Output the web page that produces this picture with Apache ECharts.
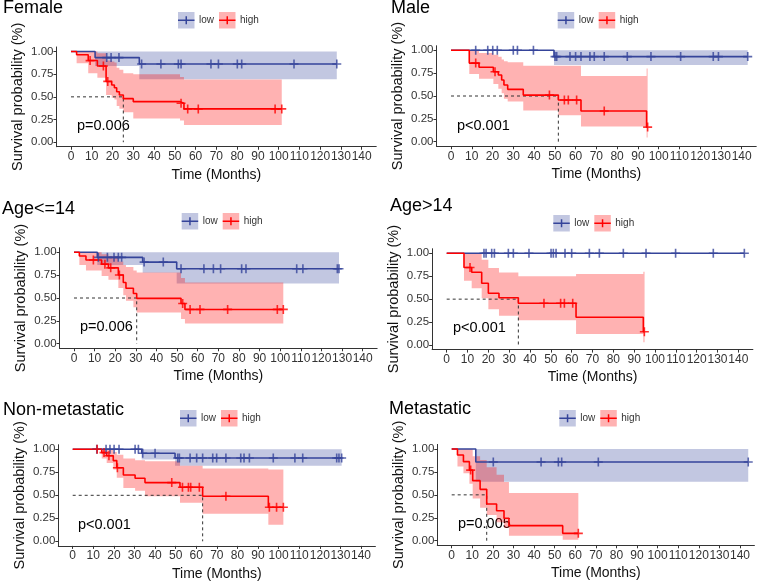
<!DOCTYPE html>
<html><head><meta charset="utf-8">
<script src="https://cdn.jsdelivr.net/npm/echarts@6/dist/echarts.min.js"></script>
<style>html,body{margin:0;padding:0;background:#fff}#c{width:759px;height:584px}</style>
</head><body><div id="c"></div>
<script>
// ---------- tick labels / texts ----------
const xTicks = [0,10,20,30,40,50,60,70,80,90,100,110,120,130,140];
const yTicks = [0,0.25,0.5,0.75,1];
const titles = ['Female','Male','Age<=14','Age>14','Non-metastatic','Metastatic'];
const pValues = ['p=0.006','p<0.001','p=0.006','p<0.001','p<0.001','p=0.005'];
const medianHigh = [25.2, 51.7, 30.4, 34.4, 63.1, 17];
const groupNames = ['low','high'];

// ---------- Female ----------
const femaleLowT  = [0, 11.6, 32.9, 128];
const femaleLowS  = [1, 0.933, 0.862, 0.862];
const femaleLowLo = [1, 0.84, 0.695, 0.695];
const femaleLowHi = [1, 1, 1, 1];
const femaleLowCens = [17.2, 19.3, 23.1, 34, 43.3, 51.7, 53, 67.4, 71, 80.1, 82.2, 107.4, 128];
const femaleHighT  = [0, 2.7, 8.3, 12.7, 16.9, 19.6, 20.9, 22, 23.3, 25.2, 30, 52.5, 54.4, 101.5];
const femaleHighS  = [1, 0.964, 0.90, 0.84, 0.67, 0.63, 0.60, 0.556, 0.52, 0.48, 0.447, 0.43, 0.367, 0.367];
const femaleHighLo = [1, 0.87, 0.76, 0.71, 0.52, 0.49, 0.47, 0.40, 0.37, 0.33, 0.26, 0.24, 0.19, 0.19];
const femaleHighHi = [1, 1, 1, 0.98, 0.90, 0.89, 0.88, 0.82, 0.80, 0.76, 0.75, 0.72, 0.69, 0.69];
const femaleHighCens = [9.2, 15.6, 17.7, 53, 56.2, 61.3, 98.3, 101.5];

// ---------- Male ----------
const maleLowT  = [0, 49.6, 142.9];
const maleLowS  = [1, 0.931, 0.931];
const maleLowLo = [1, 0.839, 0.839];
const maleLowHi = [1, 1, 1];
const maleLowCens = [11.9, 17.7, 20.1, 22.3, 30, 32, 39.7, 50.1, 50.9, 57.3, 60, 62.6, 66.9, 69, 73.8, 84.9, 96.3, 110.6, 126.3, 128.8, 142.9];
const maleHighT  = [0, 8.8, 13.5, 20.4, 22.8, 24.4, 25.5, 27.3, 34.8, 51.7, 62.6, 94.2, 94.7];
const maleHighS  = [1, 0.86, 0.814, 0.766, 0.73, 0.675, 0.62, 0.573, 0.51, 0.456, 0.336, 0.16, 0.16];
const maleHighLo = [1, 0.74, 0.69, 0.63, 0.58, 0.53, 0.47, 0.44, 0.34, 0.29, 0.165, 0.045, 0.045];
const maleHighHi = [1, 1, 0.97, 0.95, 0.93, 0.90, 0.88, 0.87, 0.83, 0.83, 0.72, 0.80, 0.80];
const maleHighCens = [11.9, 21.2, 47.4, 54.6, 56.5, 60.5, 73.8, 94.7];

// ---------- Age<=14 ----------
const youngLowT  = [0, 11.3, 33.3, 49.8, 128.5];
const youngLowS  = [1, 0.945, 0.893, 0.82, 0.82];
const youngLowLo = [1, 0.86, 0.777, 0.66, 0.66];
const youngLowHi = [1, 1, 1, 1, 1];
const youngLowCens = [11.8, 16.2, 19.4, 21.5, 23.1, 34, 43.3, 51.9, 63, 67.6, 71.1, 81.3, 83.4, 108, 111, 127.7, 128.5];
const youngHighT  = [0, 2.6, 5.8, 13.4, 16.7, 21.5, 23.9, 25.2, 28.8, 30.4, 51.9, 53.8, 101.5];
const youngHighS  = [1, 0.96, 0.916, 0.87, 0.83, 0.752, 0.67, 0.606, 0.55, 0.496, 0.44, 0.375, 0.375];
const youngHighLo = [1, 0.86, 0.80, 0.74, 0.70, 0.61, 0.53, 0.47, 0.40, 0.34, 0.27, 0.22, 0.22];
const youngHighHi = [1, 1, 1, 0.98, 0.96, 0.90, 0.86, 0.84, 0.80, 0.78, 0.72, 0.67, 0.67];
const youngHighCens = [9.4, 15, 17.8, 22, 52.7, 56.3, 61.1, 74.5, 98.6, 101.5];

// ---------- Age>14 ----------
const oldLowT  = [0, 142.9];
const oldLowS  = [1, 1];
const oldLowLo = [1, 1];
const oldLowHi = [1, 1];
const oldLowCens = [17.9, 18.9, 21.6, 22.9, 29.6, 32, 39.5, 50.1, 51.2, 52.5, 56.8, 60, 68.5, 73.3, 84.8, 95.7, 109.9, 128, 142.9];
const oldHighT  = [0, 8.3, 12, 16.8, 20, 25.1, 34.4, 62.1, 94.4, 95];
const oldHighS  = [1, 0.845, 0.793, 0.673, 0.564, 0.516, 0.455, 0.302, 0.145, 0.145];
const oldHighLo = [1, 0.70, 0.62, 0.51, 0.39, 0.32, 0.27, 0.12, 0.03, 0.03];
const oldHighHi = [1, 1, 1, 0.93, 0.84, 0.79, 0.75, 0.775, 0.80, 0.80];
const oldHighCens = [11.2, 46.7, 54.7, 56.5, 60.5, 94.9];

// ---------- Non-metastatic ----------
const nonmetLowT  = [0, 33.5, 49.7, 130.6];
const nonmetLowS  = [1, 0.957, 0.905, 0.905];
const nonmetLowLo = [1, 0.89, 0.82, 0.82];
const nonmetLowHi = [1, 1, 1, 1];
const nonmetLowCens = [11.7, 16.2, 18.1, 20.1, 22.5, 30.3, 31.9, 34, 40, 51, 51.8, 57, 60.2, 63.1, 68, 69.9, 74.4, 81.6, 83.2, 85.8, 97.4, 107.9, 111.7, 128.2, 129.3, 130.6];
const nonmetHighT  = [0, 14.1, 16.5, 19.7, 21.4, 24.6, 30.3, 35.1, 52.1, 63.1, 95, 102.3];
const nonmetHighS  = [1, 0.964, 0.93, 0.877, 0.80, 0.721, 0.685, 0.638, 0.587, 0.49, 0.37, 0.37];
const nonmetHighLo = [1, 0.90, 0.85, 0.78, 0.69, 0.58, 0.55, 0.49, 0.42, 0.30, 0.18, 0.18];
const nonmetHighHi = [1, 1, 1, 0.97, 0.94, 0.90, 0.88, 0.87, 0.82, 0.79, 0.78, 0.78];
const nonmetHighCens = [11.9, 15.2, 17.6, 21.7, 48.1, 53.3, 56.2, 57.3, 61.5, 74.4, 95.5, 99, 102.3];

// ---------- Metastatic ----------
const metLowT  = [0, 11.7, 144];
const metLowS  = [1, 0.858, 0.858];
const metLowLo = [1, 0.644, 0.644];
const metLowHi = [1, 1, 1];
const metLowCens = [20.2, 43.4, 51.8, 53.4, 71.2, 144];
const metHighT  = [0, 2.8, 5.7, 8.6, 10.2, 13.8, 17, 21.8, 25.4, 27.8, 53.9, 61.5];
const metHighS  = [1, 0.935, 0.862, 0.77, 0.655, 0.56, 0.40, 0.327, 0.245, 0.164, 0.08, 0.08];
const metHighLo = [1, 0.81, 0.735, 0.62, 0.46, 0.36, 0.28, 0.20, 0.14, 0.055, 0.01, 0.01];
const metHighHi = [1, 1, 1, 1, 0.92, 0.88, 0.80, 0.72, 0.64, 0.52, 0.52, 0.52];
const metHighCens = [9.2, 61.5];

// ---------- assemble ----------
const curves = [
  [[femaleLowT, femaleLowS, femaleLowLo, femaleLowHi, femaleLowCens], [femaleHighT, femaleHighS, femaleHighLo, femaleHighHi, femaleHighCens]],
  [[maleLowT, maleLowS, maleLowLo, maleLowHi, maleLowCens], [maleHighT, maleHighS, maleHighLo, maleHighHi, maleHighCens]],
  [[youngLowT, youngLowS, youngLowLo, youngLowHi, youngLowCens], [youngHighT, youngHighS, youngHighLo, youngHighHi, youngHighCens]],
  [[oldLowT, oldLowS, oldLowLo, oldLowHi, oldLowCens], [oldHighT, oldHighS, oldHighLo, oldHighHi, oldHighCens]],
  [[nonmetLowT, nonmetLowS, nonmetLowLo, nonmetLowHi, nonmetLowCens], [nonmetHighT, nonmetHighS, nonmetHighLo, nonmetHighHi, nonmetHighCens]],
  [[metLowT, metLowS, metLowLo, metLowHi, metLowCens], [metHighT, metHighS, metHighLo, metHighHi, metHighCens]]
];

// ---------- layout (pixel positions of x=0, x=140, y=1, y=0) ----------
const panelX0   = [71, 451, 74, 446.7, 72.7, 451.7];
const panelX140 = [361.7, 741.7, 362.7, 738.3, 361, 740];
const panelY1   = [51.5, 50.3, 252.3, 253.3, 449.3, 449];
const panelY0   = [142.2, 141.7, 343.7, 345, 541.3, 540.7];
const titlePos  = [[3,9],[391,9],[2,210],[390,207],[3,411],[389,410]];
const legendPos = [[178,12],[557.7,12],[181.7,213],[553.3,215],[180,410],[559.3,410]];
const pvalPos   = [[77,126],[457,126],[80,327],[453,328],[78,525],[458,524]];

const lineColors = ['#35449A', '#FF0000'];
const bandColors = ['rgba(53,68,154,0.3)', 'rgba(255,0,0,0.3)'];
const plusPath = 'path://M0,4.1H10V5.9H0Z M4.1,0H5.9V10H4.1Z';

function sAt(T, S, t) { let v = S[0]; for (let i = 0; i < T.length; i++) if (T[i] <= t) v = S[i]; return v; }

const grids = [], xAxes = [], yAxes = [], series = [], graphics = [];
for (let p = 0; p < 6; p++) {
  const px = (panelX140[p] - panelX0[p]) / 140;
  const pu = panelY0[p] - panelY1[p];
  grids.push({ left: panelX0[p] - 7 * px, width: 154 * px, top: panelY1[p] - 0.05 * pu, height: 1.1 * pu, outerBoundsMode: 'none', containLabel: false });
  xAxes.push({
    type: 'value', gridIndex: p, min: -7, max: 147,
    name: 'Time (Months)', nameLocation: 'middle', nameGap: 21,
    nameTextStyle: { fontSize: 14, color: '#111', fontFamily: 'Liberation Sans' },
    axisLine: { onZero: false, lineStyle: { color: '#333', width: 1 } },
    axisTick: { show: true, length: 3, customValues: xTicks, lineStyle: { color: '#333' } },
    axisLabel: { customValues: xTicks, fontSize: 12, color: '#333', margin: 4, fontFamily: 'Liberation Sans', hideOverlap: false },
    splitLine: { show: false }
  });
  yAxes.push({
    type: 'value', gridIndex: p, min: -0.05, max: 1.05,
    name: 'Survival probability (%)', nameLocation: 'middle', nameGap: 31,
    nameTextStyle: { fontSize: 14.5, color: '#111', fontFamily: 'Liberation Sans' },
    axisLine: { onZero: false, lineStyle: { color: '#333', width: 1 } },
    axisTick: { show: true, length: 3, customValues: yTicks, lineStyle: { color: '#333' } },
    axisLabel: { customValues: yTicks, fontSize: 11.5, color: '#333', margin: 3, fontFamily: 'Liberation Sans', formatter: v => v.toFixed(2) },
    splitLine: { show: false }
  });
  curves[p].forEach((c, g) => {
    const [T, S, Lo, Hi, C] = c;
    series.push({
      type: 'custom', xAxisIndex: p, yAxisIndex: p, silent: true, z: 1,
      data: [[T[0], S[0]]],
      renderItem: (params, api) => {
        const pts = [];
        for (let i = 0; i < T.length - 1; i++) { pts.push(api.coord([T[i], Hi[i]])); pts.push(api.coord([T[i + 1], Hi[i]])); }
        for (let i = T.length - 2; i >= 0; i--) { pts.push(api.coord([T[i + 1], Lo[i]])); pts.push(api.coord([T[i], Lo[i]])); }
        return { type: 'polygon', shape: { points: pts }, style: { fill: bandColors[g] } };
      }
    });
  });
  series.push({
    type: 'line', xAxisIndex: p, yAxisIndex: p, z: 2, silent: true, symbol: 'none',
    data: [[0, 0.5], [medianHigh[p], 0.5], [medianHigh[p], 0]],
    lineStyle: { color: '#333', width: 1, type: [3, 3] }
  });
  curves[p].forEach((c, g) => {
    const [T, S, Lo, Hi, C] = c;
    series.push({
      type: 'line', xAxisIndex: p, yAxisIndex: p, z: 3, silent: true, step: 'end', symbol: 'none',
      data: T.map((t, i) => [t, S[i]]),
      lineStyle: { color: lineColors[g], width: 1.6 }
    });
    series.push({
      type: 'scatter', xAxisIndex: p, yAxisIndex: p, z: 4, silent: true,
      symbol: plusPath, symbolSize: 9,
      itemStyle: { color: lineColors[g] },
      data: C.map(t => [t, sAt(T, S, t)])
    });
  });
  // title
  graphics.push({ type: 'text', left: titlePos[p][0], top: titlePos[p][1] - 10,
    style: { text: titles[p], fontSize: 18, fill: '#000', fontFamily: 'Liberation Sans' } });
  // p-value
  graphics.push({ type: 'text', x: pvalPos[p][0], y: pvalPos[p][1],
    style: { text: pValues[p], fontSize: 14.5, fill: '#000', fontFamily: 'Liberation Sans', textVerticalAlign: 'middle', textAlign: 'left' } });
  // legend
  const [lx, ly] = legendPos[p];
  const offs = [0, 41];
  groupNames.forEach((nm, g) => {
    const x = lx + offs[g];
    graphics.push({ type: 'rect', shape: { x: x, y: ly, width: 16.5, height: 16.5 }, style: { fill: bandColors[g] } });
    graphics.push({ type: 'line', shape: { x1: x, y1: ly + 8.25, x2: x + 16.5, y2: ly + 8.25 }, style: { stroke: lineColors[g], lineWidth: 1.5 } });
    graphics.push({ type: 'line', shape: { x1: x + 8.25, y1: ly + 4.25, x2: x + 8.25, y2: ly + 12.25 }, style: { stroke: lineColors[g], lineWidth: 1.5 } });
    graphics.push({ type: 'text', x: x + 21, y: ly + 8.5,
      style: { text: nm, fontSize: 10, fill: '#333', fontFamily: 'Liberation Sans', textVerticalAlign: 'middle' } });
  });
}

const chart = echarts.init(document.getElementById('c'), null, { renderer: 'canvas' });
chart.setOption({
  animation: false,
  backgroundColor: '#fff',
  grid: grids, xAxis: xAxes, yAxis: yAxes, series: series,
  graphic: graphics
});
</script></body></html>
